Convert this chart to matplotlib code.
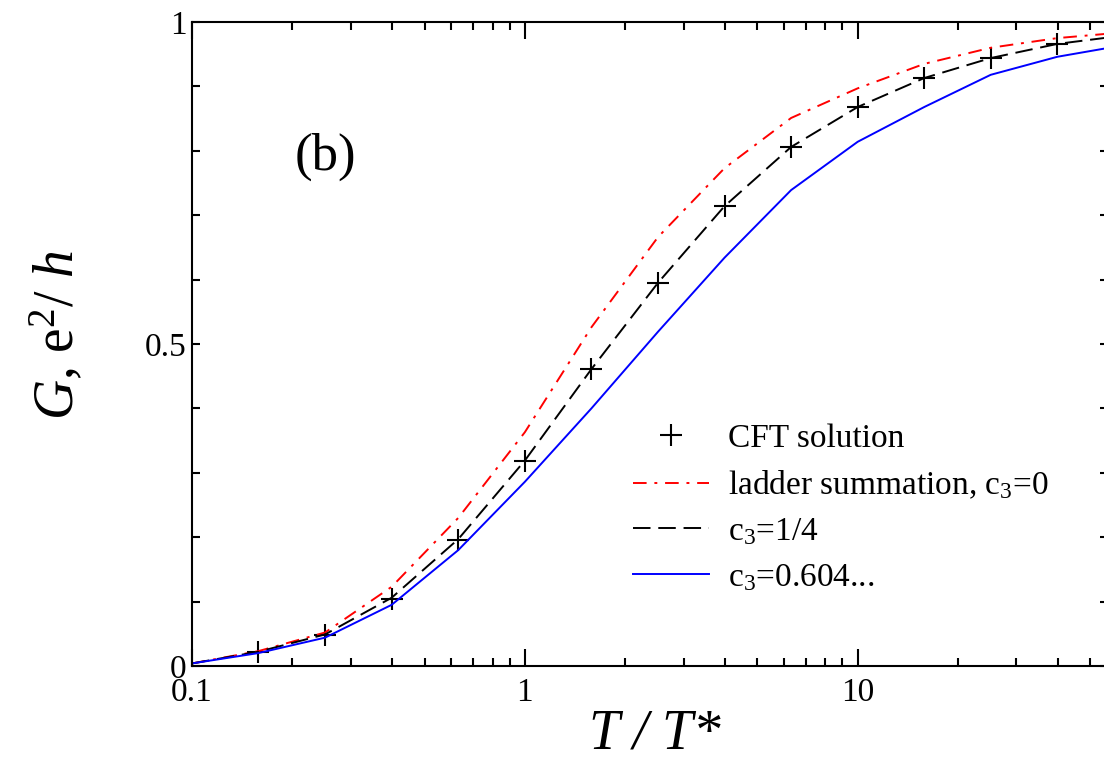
"""Conductance vs temperature: CFT points and ladder-summation curves."""
import matplotlib
matplotlib.use('Agg')
import matplotlib.pyplot as plt
from matplotlib.ticker import FixedLocator, LogLocator, NullFormatter

plt.rcParams['font.family'] = 'Liberation Serif'
plt.rcParams['mathtext.fontset'] = 'custom'
plt.rcParams['mathtext.rm'] = 'Liberation Serif'
plt.rcParams['mathtext.it'] = 'Liberation Serif:italic'

# CFT solution (markers)
t_cft = [0.158, 0.251, 0.398, 0.631, 1.0, 1.585, 2.512, 3.98, 6.31, 10.0,
         15.85, 25.1, 39.8]
g_cft = [0.022, 0.048, 0.104, 0.196, 0.318, 0.461, 0.595, 0.714, 0.806,
         0.868, 0.913, 0.944, 0.966]

# curves
t_line = [0.1, 0.158, 0.251, 0.398, 0.631, 1.0, 1.585, 2.512, 3.98, 6.31,
          10.0, 15.85, 25.1, 39.8, 63.1]
g_c0 = [0.004, 0.023, 0.052, 0.123, 0.230, 0.363, 0.526, 0.666, 0.773,
        0.851, 0.897, 0.935, 0.960, 0.975, 0.984]
g_c14 = [0.004, 0.022, 0.049, 0.106, 0.197, 0.319, 0.461, 0.595, 0.714,
         0.806, 0.868, 0.913, 0.944, 0.966, 0.979]
g_c604 = [0.004, 0.020, 0.044, 0.095, 0.180, 0.286, 0.400, 0.519, 0.634,
          0.739, 0.814, 0.868, 0.918, 0.946, 0.964]

fig = plt.figure(figsize=(11.04, 7.61), dpi=100)
ax = fig.add_axes([192 / 1104, 95 / 761, 916 / 1104, 644 / 761])

ax.plot(t_cft, g_cft, '+', color='black', ms=16, mew=1.5,
        label='CFT solution')
ax.plot(t_line, g_c0, color='red', lw=1.4, dashes=(7, 4, 1.5, 4),
        label=r'ladder summation, c$_3$=0')
ax.plot(t_line, g_c14, color='black', lw=1.4, dashes=(9, 4),
        label=r'c$_3$=1/4')
ax.plot(t_line, g_c604, color='blue', lw=1.4, label=r'c$_3$=0.604...')

ax.set_xscale('log')
ax.set_xlim(0.1, 56.5)
ax.set_ylim(0, 1)

ax.set_xticks([0.1, 1, 10])
ax.set_xticklabels(['0.1', '1', '10'])
ax.xaxis.set_minor_locator(LogLocator(base=10, subs=range(2, 10)))
ax.xaxis.set_minor_formatter(NullFormatter())
ax.set_yticks([0, 0.5, 1])
ax.set_yticklabels(['0', '0.5', '1'])
ax.yaxis.set_minor_locator(FixedLocator([0.1, 0.2, 0.3, 0.4, 0.6, 0.7, 0.8, 0.9]))

ax.tick_params(which='both', direction='in', top=True, right=True,
               width=1.5, labelsize=24)
ax.tick_params(axis='x', which='major', length=12, pad=8)
ax.tick_params(axis='x', which='minor', length=6)
ax.tick_params(axis='y', which='both', length=6, pad=4)
for sp in ax.spines.values():
    sp.set_linewidth(1.5)

ax.set_xlabel('T / T*', fontsize=40, fontstyle='italic')
ax.xaxis.set_label_coords(0.505, -0.066)
ax.set_ylabel(r'$G$, e$^2$/ $h$', fontsize=40)
ax.yaxis.set_label_coords(-0.115, 0.515)

ax.text(0.146, 0.79, '(b)', transform=ax.transAxes, fontsize=38,
        ha='center', va='center')

ax.legend(loc='upper left', bbox_to_anchor=(0.481, 0.377), frameon=False,
          fontsize=24, handlelength=2.3, handletextpad=0.55,
          labelspacing=0.45, borderpad=0, borderaxespad=0)

plt.savefig('out.png', dpi=100)
